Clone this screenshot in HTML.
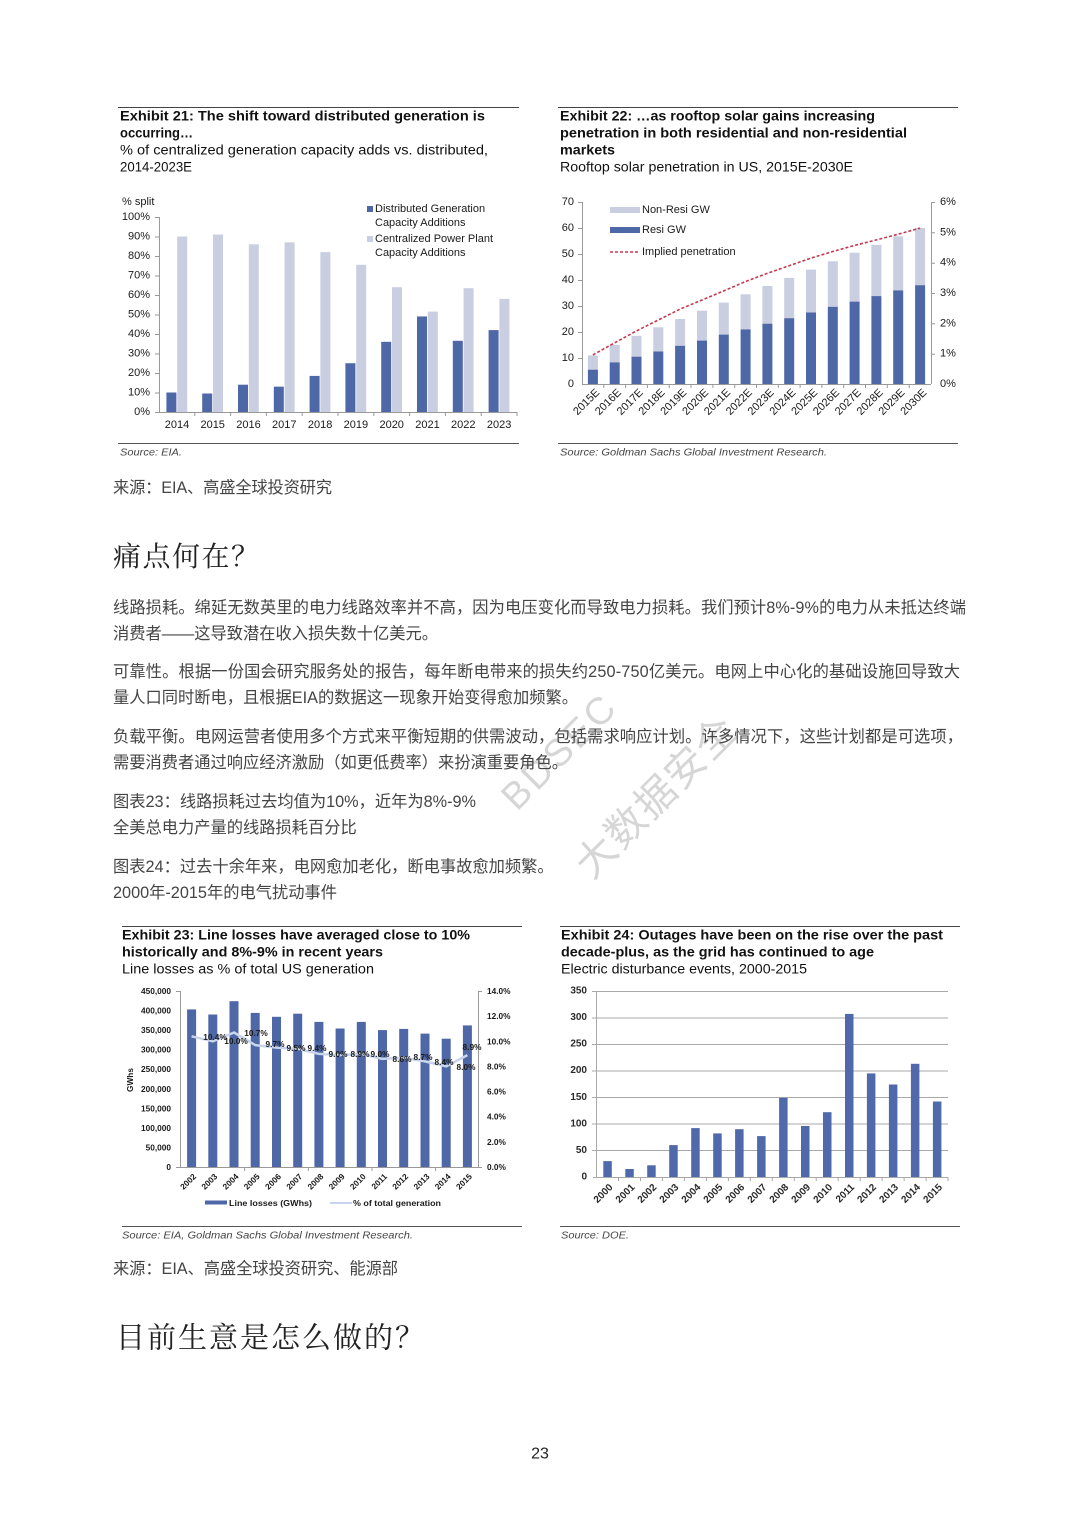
<!DOCTYPE html>
<html><head><meta charset="utf-8">
<style>
html,body{margin:0;padding:0;background:#fff;}
svg{display:block}
text{dominant-baseline:central;font-family:"Liberation Sans",Arial,sans-serif;}
.cn{font-family:"Liberation Sans","Noto Sans CJK SC",sans-serif;font-size:16.25px;fill:#444;}
.h{font-family:"Noto Serif CJK SC","Noto Sans CJK SC",serif;fill:#222;}
.tb{font-weight:bold;font-size:13.5px;fill:#111}
.tr{font-size:13.5px;fill:#111}
.src{font-style:italic;font-size:10px;fill:#444}
.ax{font-size:11px;fill:#1a1a1a}
.ax8{font-size:8.3px;font-weight:bold;fill:#1a1a1a}
.ax10{font-size:10px;font-weight:bold;fill:#2a2a2a}
.wm{font-family:"Liberation Sans","Noto Sans CJK SC",sans-serif;fill:#d6d6d6;}
</style></head><body>
<svg width="1080" height="1527" viewBox="0 0 1080 1527" xmlns="http://www.w3.org/2000/svg">
<rect width="1080" height="1527" fill="#fff"/>

<!-- ================= Exhibit 21 ================= -->
<line x1="118" y1="107.5" x2="519" y2="107.5" stroke="#444" stroke-width="1"/>
<text class="tb" x="120" y="116" textLength="365" lengthAdjust="spacingAndGlyphs">Exhibit 21: The shift toward distributed generation is</text>
<text class="tb" x="120" y="133" textLength="73" lengthAdjust="spacingAndGlyphs">occurring…</text>
<text class="tr" x="120" y="150" textLength="368" lengthAdjust="spacingAndGlyphs">% of centralized generation capacity adds vs. distributed,</text>
<text class="tr" x="120" y="167" textLength="72" lengthAdjust="spacingAndGlyphs">2014-2023E</text>

<text class="ax" x="122" y="202">% split</text>
<g class="ax" text-anchor="end">
<text class="ax" x="150" y="217">100%</text>
<text class="ax" x="150" y="236.5">90%</text>
<text class="ax" x="150" y="256">80%</text>
<text class="ax" x="150" y="275.5">70%</text>
<text class="ax" x="150" y="295">60%</text>
<text class="ax" x="150" y="314.5">50%</text>
<text class="ax" x="150" y="334">40%</text>
<text class="ax" x="150" y="353.5">30%</text>
<text class="ax" x="150" y="373">20%</text>
<text class="ax" x="150" y="392.5">10%</text>
<text class="ax" x="150" y="412">0%</text>
</g>
<g stroke="#999" stroke-width="1">
<line x1="159.5" y1="217" x2="159.5" y2="412"/>
<line x1="155" y1="412.5" x2="517" y2="412.5"/>
<line x1="155" y1="217.5" x2="159" y2="217.5"/>
<line x1="155" y1="237" x2="159" y2="237"/>
<line x1="155" y1="256.5" x2="159" y2="256.5"/>
<line x1="155" y1="276" x2="159" y2="276"/>
<line x1="155" y1="295.5" x2="159" y2="295.5"/>
<line x1="155" y1="315" x2="159" y2="315"/>
<line x1="155" y1="334.5" x2="159" y2="334.5"/>
<line x1="155" y1="354" x2="159" y2="354"/>
<line x1="155" y1="373.5" x2="159" y2="373.5"/>
<line x1="155" y1="393" x2="159" y2="393"/>
<line x1="194.8" y1="412" x2="194.8" y2="416"/>
<line x1="230.6" y1="412" x2="230.6" y2="416"/>
<line x1="266.4" y1="412" x2="266.4" y2="416"/>
<line x1="302.2" y1="412" x2="302.2" y2="416"/>
<line x1="338" y1="412" x2="338" y2="416"/>
<line x1="373.8" y1="412" x2="373.8" y2="416"/>
<line x1="409.6" y1="412" x2="409.6" y2="416"/>
<line x1="445.4" y1="412" x2="445.4" y2="416"/>
<line x1="481.2" y1="412" x2="481.2" y2="416"/>
<line x1="517" y1="412" x2="517" y2="416"/>
</g>
<g fill="#4e67a7">
<rect x="166.4" y="392.5" width="10" height="19.5"/>
<rect x="202.2" y="393.5" width="10" height="18.5"/>
<rect x="238" y="384.7" width="10" height="27.3"/>
<rect x="273.8" y="386.65" width="10" height="25.35"/>
<rect x="309.6" y="375.9" width="10" height="36.1"/>
<rect x="345.4" y="363.25" width="10" height="48.75"/>
<rect x="381.2" y="341.8" width="10" height="70.2"/>
<rect x="417" y="316.45" width="10" height="95.55"/>
<rect x="452.8" y="340.8" width="10" height="71.2"/>
<rect x="488.6" y="330.1" width="10" height="81.9"/>
</g>
<g fill="#c9cee0">
<rect x="177.2" y="236.5" width="10" height="175.5"/>
<rect x="213" y="234.55" width="10" height="177.45"/>
<rect x="248.8" y="244.3" width="10" height="167.7"/>
<rect x="284.6" y="242.35" width="10" height="169.65"/>
<rect x="320.4" y="252.1" width="10" height="159.9"/>
<rect x="356.2" y="264.8" width="10" height="147.2"/>
<rect x="392" y="287.2" width="10" height="124.8"/>
<rect x="427.8" y="311.6" width="10" height="100.4"/>
<rect x="463.6" y="288.2" width="10" height="123.8"/>
<rect x="499.4" y="298.9" width="10" height="113.1"/>
</g>
<g text-anchor="middle">
<text class="ax" x="177" y="425" text-anchor="middle">2014</text>
<text class="ax" x="212.7" y="425" text-anchor="middle">2015</text>
<text class="ax" x="248.5" y="425" text-anchor="middle">2016</text>
<text class="ax" x="284.3" y="425" text-anchor="middle">2017</text>
<text class="ax" x="320.1" y="425" text-anchor="middle">2018</text>
<text class="ax" x="355.9" y="425" text-anchor="middle">2019</text>
<text class="ax" x="391.7" y="425" text-anchor="middle">2020</text>
<text class="ax" x="427.5" y="425" text-anchor="middle">2021</text>
<text class="ax" x="463.3" y="425" text-anchor="middle">2022</text>
<text class="ax" x="499.1" y="425" text-anchor="middle">2023</text>
</g>
<rect x="367" y="206" width="6" height="6" fill="#4e67a7"/>
<rect x="367" y="236" width="6" height="6" fill="#c9cee0"/>
<text class="ax" x="375" y="209">Distributed Generation</text>
<text class="ax" x="375" y="223">Capacity Additions</text>
<text class="ax" x="375" y="239">Centralized Power Plant</text>
<text class="ax" x="375" y="253">Capacity Additions</text>
<line x1="118" y1="443.5" x2="519" y2="443.5" stroke="#555" stroke-width="1"/>
<text class="src" x="120" y="453" textLength="62" lengthAdjust="spacingAndGlyphs">Source: EIA.</text>

<!-- ================= Exhibit 22 ================= -->
<line x1="558" y1="107.5" x2="958" y2="107.5" stroke="#444" stroke-width="1"/>
<text class="tb" x="560" y="116" textLength="315" lengthAdjust="spacingAndGlyphs">Exhibit 22: …as rooftop solar gains increasing</text>
<text class="tb" x="560" y="133" textLength="347" lengthAdjust="spacingAndGlyphs">penetration in both residential and non-residential</text>
<text class="tb" x="560" y="150" textLength="55" lengthAdjust="spacingAndGlyphs">markets</text>
<text class="tr" x="560" y="167" textLength="293" lengthAdjust="spacingAndGlyphs">Rooftop solar penetration in US, 2015E-2030E</text>

<g text-anchor="end">
<text class="ax" x="574" y="202" text-anchor="end">70</text>
<text class="ax" x="574" y="228" text-anchor="end">60</text>
<text class="ax" x="574" y="254" text-anchor="end">50</text>
<text class="ax" x="574" y="280" text-anchor="end">40</text>
<text class="ax" x="574" y="306" text-anchor="end">30</text>
<text class="ax" x="574" y="332" text-anchor="end">20</text>
<text class="ax" x="574" y="358" text-anchor="end">10</text>
<text class="ax" x="574" y="384" text-anchor="end">0</text>
</g>
<text class="ax" x="940" y="202">6%</text>
<text class="ax" x="940" y="232.3">5%</text>
<text class="ax" x="940" y="262.7">4%</text>
<text class="ax" x="940" y="293">3%</text>
<text class="ax" x="940" y="323.3">2%</text>
<text class="ax" x="940" y="353.7">1%</text>
<text class="ax" x="940" y="384">0%</text>
<g stroke="#999" stroke-width="1">
<line x1="582.5" y1="202" x2="582.5" y2="384"/>
<line x1="931.5" y1="202" x2="931.5" y2="384"/>
<line x1="582" y1="384.5" x2="931" y2="384.5"/>
<line x1="578" y1="202.5" x2="582" y2="202.5"/>
<line x1="578" y1="228.5" x2="582" y2="228.5"/>
<line x1="578" y1="254.5" x2="582" y2="254.5"/>
<line x1="578" y1="280.5" x2="582" y2="280.5"/>
<line x1="578" y1="306.5" x2="582" y2="306.5"/>
<line x1="578" y1="332.5" x2="582" y2="332.5"/>
<line x1="578" y1="358.5" x2="582" y2="358.5"/>
<line x1="931" y1="202.5" x2="935" y2="202.5"/>
<line x1="931" y1="232.8" x2="935" y2="232.8"/>
<line x1="931" y1="263.2" x2="935" y2="263.2"/>
<line x1="931" y1="293.5" x2="935" y2="293.5"/>
<line x1="931" y1="323.8" x2="935" y2="323.8"/>
<line x1="931" y1="354.2" x2="935" y2="354.2"/>
<line x1="603.8" y1="384" x2="603.8" y2="388"/>
<line x1="625.6" y1="384" x2="625.6" y2="388"/>
<line x1="647.4" y1="384" x2="647.4" y2="388"/>
<line x1="669.2" y1="384" x2="669.2" y2="388"/>
<line x1="691" y1="384" x2="691" y2="388"/>
<line x1="712.9" y1="384" x2="712.9" y2="388"/>
<line x1="734.7" y1="384" x2="734.7" y2="388"/>
<line x1="756.5" y1="384" x2="756.5" y2="388"/>
<line x1="778.3" y1="384" x2="778.3" y2="388"/>
<line x1="800.1" y1="384" x2="800.1" y2="388"/>
<line x1="821.9" y1="384" x2="821.9" y2="388"/>
<line x1="843.7" y1="384" x2="843.7" y2="388"/>
<line x1="865.5" y1="384" x2="865.5" y2="388"/>
<line x1="887.3" y1="384" x2="887.3" y2="388"/>
<line x1="909.2" y1="384" x2="909.2" y2="388"/>
</g>
<g fill="#c9cee0">
<rect x="587.9" y="355.4" width="10" height="14.3"/>
<rect x="609.7" y="345" width="10" height="17.4"/>
<rect x="631.5" y="335.9" width="10" height="20.8"/>
<rect x="653.3" y="327.3" width="10" height="24.2"/>
<rect x="675.1" y="319" width="10" height="26.8"/>
<rect x="697" y="310.7" width="10" height="29.9"/>
<rect x="718.8" y="302.6" width="10" height="32"/>
<rect x="740.6" y="294.3" width="10" height="35.1"/>
<rect x="762.4" y="286" width="10" height="37.7"/>
<rect x="784.2" y="277.9" width="10" height="40.3"/>
<rect x="806" y="269.6" width="10" height="42.9"/>
<rect x="827.8" y="261.3" width="10" height="45.5"/>
<rect x="849.6" y="252.7" width="10" height="48.9"/>
<rect x="871.4" y="244.9" width="10" height="51.2"/>
<rect x="893.2" y="236.3" width="10" height="54.1"/>
<rect x="915.1" y="228" width="10" height="57.2"/>
</g>
<g fill="#4e67a7">
<rect x="587.9" y="369.7" width="10" height="14.3"/>
<rect x="609.7" y="362.4" width="10" height="21.6"/>
<rect x="631.5" y="356.7" width="10" height="27.3"/>
<rect x="653.3" y="351.5" width="10" height="32.5"/>
<rect x="675.1" y="345.8" width="10" height="38.2"/>
<rect x="697" y="340.6" width="10" height="43.4"/>
<rect x="718.8" y="334.6" width="10" height="49.4"/>
<rect x="740.6" y="329.4" width="10" height="54.6"/>
<rect x="762.4" y="323.7" width="10" height="60.3"/>
<rect x="784.2" y="318.2" width="10" height="65.8"/>
<rect x="806" y="312.5" width="10" height="71.5"/>
<rect x="827.8" y="306.8" width="10" height="77.2"/>
<rect x="849.6" y="301.6" width="10" height="82.4"/>
<rect x="871.4" y="296.1" width="10" height="87.9"/>
<rect x="893.2" y="290.4" width="10" height="93.6"/>
<rect x="915.1" y="285.2" width="10" height="98.8"/>
</g>
<polyline fill="none" stroke="#c8374f" stroke-width="1.6" stroke-dasharray="3,2" points="592.9,354.9 614.7,342.8 636.5,330.9 658.3,320 680.1,309.1 702,300 723.8,290.9 745.6,281.5 767.4,273.3 789.2,265.7 811,258.1 832.8,251.5 854.6,245.4 876.4,239.9 898.2,234.2 920.1,228.1"/>
<rect x="610" y="207" width="30" height="6" fill="#c9cee0"/>
<rect x="610" y="227" width="30" height="6" fill="#4e67a7"/>
<line x1="610" y1="252" x2="640" y2="252" stroke="#c8374f" stroke-width="1.6" stroke-dasharray="3,2"/>
<text class="ax" x="642" y="210">Non-Resi GW</text>
<text class="ax" x="642" y="230">Resi GW</text>
<text class="ax" x="642" y="252">Implied penetration</text>
<g font-size="10.5">
<text class="ax" font-size="10.5" text-anchor="end" transform="translate(597.9,391) rotate(-45)">2015E</text>
<text class="ax" font-size="10.5" text-anchor="end" transform="translate(619.7,391) rotate(-45)">2016E</text>
<text class="ax" font-size="10.5" text-anchor="end" transform="translate(641.5,391) rotate(-45)">2017E</text>
<text class="ax" font-size="10.5" text-anchor="end" transform="translate(663.3,391) rotate(-45)">2018E</text>
<text class="ax" font-size="10.5" text-anchor="end" transform="translate(685.1,391) rotate(-45)">2019E</text>
<text class="ax" font-size="10.5" text-anchor="end" transform="translate(707,391) rotate(-45)">2020E</text>
<text class="ax" font-size="10.5" text-anchor="end" transform="translate(728.8,391) rotate(-45)">2021E</text>
<text class="ax" font-size="10.5" text-anchor="end" transform="translate(750.6,391) rotate(-45)">2022E</text>
<text class="ax" font-size="10.5" text-anchor="end" transform="translate(772.4,391) rotate(-45)">2023E</text>
<text class="ax" font-size="10.5" text-anchor="end" transform="translate(794.2,391) rotate(-45)">2024E</text>
<text class="ax" font-size="10.5" text-anchor="end" transform="translate(816,391) rotate(-45)">2025E</text>
<text class="ax" font-size="10.5" text-anchor="end" transform="translate(837.8,391) rotate(-45)">2026E</text>
<text class="ax" font-size="10.5" text-anchor="end" transform="translate(859.6,391) rotate(-45)">2027E</text>
<text class="ax" font-size="10.5" text-anchor="end" transform="translate(881.4,391) rotate(-45)">2028E</text>
<text class="ax" font-size="10.5" text-anchor="end" transform="translate(903.2,391) rotate(-45)">2029E</text>
<text class="ax" font-size="10.5" text-anchor="end" transform="translate(925.1,391) rotate(-45)">2030E</text>
</g>
<line x1="558" y1="443.5" x2="958" y2="443.5" stroke="#555" stroke-width="1"/>
<text class="src" x="560" y="453" textLength="267" lengthAdjust="spacingAndGlyphs">Source: Goldman Sachs Global Investment Research.</text>

<!-- watermark (behind text) -->
<text class="wm" font-size="38" letter-spacing="3" text-anchor="middle" transform="translate(560,752) rotate(-45)">BDSEC</text>
<text class="wm" font-size="40" letter-spacing="2" text-anchor="middle" transform="translate(657,797) rotate(-45)">大数据安全</text>

<!-- ================= Body text ================= -->
<text class="cn" x="113" y="488" textLength="219" lengthAdjust="spacing">来源：EIA、高盛全球投资研究</text>
<text class="h" x="113" y="555" font-size="28" letter-spacing="1.5">痛点何在？</text>

<text class="cn" x="113" y="608" textLength="853" lengthAdjust="spacing">线路损耗。绵延无数英里的电力线路效率并不高，因为电压变化而导致电力损耗。我们预计8%-9%的电力从未抵达终端</text>
<text class="cn" x="113" y="634">消费者——这导致潜在收入损失数十亿美元。</text>

<text class="cn" x="113" y="672" textLength="847" lengthAdjust="spacing">可靠性。根据一份国会研究服务处的报告，每年断电带来的损失约250-750亿美元。电网上中心化的基础设施回导致大</text>
<text class="cn" x="113" y="698">量人口同时断电，且根据EIA的数据这一现象开始变得愈加频繁。</text>

<text class="cn" x="113" y="737" textLength="850" lengthAdjust="spacing">负载平衡。电网运营者使用多个方式来平衡短期的供需波动，包括需求响应计划。许多情况下，这些计划都是可选项，</text>
<text class="cn" x="113" y="763">需要消费者通过响应经济激励（如更低费率）来扮演重要角色。</text>

<text class="cn" x="113" y="802">图表23：线路损耗过去均值为10%，近年为8%-9%</text>
<text class="cn" x="113" y="828">全美总电力产量的线路损耗百分比</text>

<text class="cn" x="113" y="867">图表24：过去十余年来，电网愈加老化，断电事故愈加频繁。</text>
<text class="cn" x="113" y="893">2000年-2015年的电气扰动事件</text>

<!-- ================= Exhibit 23 ================= -->
<line x1="122" y1="926.5" x2="522" y2="926.5" stroke="#444" stroke-width="1"/>
<text class="tb" x="122" y="935" textLength="348" lengthAdjust="spacingAndGlyphs">Exhibit 23: Line losses have averaged close to 10%</text>
<text class="tb" x="122" y="952" textLength="261" lengthAdjust="spacingAndGlyphs">historically and 8%-9% in recent years</text>
<text class="tr" x="122" y="969" textLength="252" lengthAdjust="spacingAndGlyphs">Line losses as % of total US generation</text>

<g>
<text class="ax8" x="171" y="991" text-anchor="end">450,000</text>
<text class="ax8" x="171" y="1010.6" text-anchor="end">400,000</text>
<text class="ax8" x="171" y="1030.1" text-anchor="end">350,000</text>
<text class="ax8" x="171" y="1049.7" text-anchor="end">300,000</text>
<text class="ax8" x="171" y="1069.2" text-anchor="end">250,000</text>
<text class="ax8" x="171" y="1088.8" text-anchor="end">200,000</text>
<text class="ax8" x="171" y="1108.3" text-anchor="end">150,000</text>
<text class="ax8" x="171" y="1127.9" text-anchor="end">100,000</text>
<text class="ax8" x="171" y="1147.4" text-anchor="end">50,000</text>
<text class="ax8" x="171" y="1167" text-anchor="end">0</text>
</g>
<g>
<text class="ax8" font-size="7.5" x="487" y="991">14.0%</text>
<text class="ax8" font-size="7.5" x="487" y="1016.1">12.0%</text>
<text class="ax8" font-size="7.5" x="487" y="1041.3">10.0%</text>
<text class="ax8" font-size="7.5" x="487" y="1066.4">8.0%</text>
<text class="ax8" font-size="7.5" x="487" y="1091.6">6.0%</text>
<text class="ax8" font-size="7.5" x="487" y="1116.7">4.0%</text>
<text class="ax8" font-size="7.5" x="487" y="1141.9">2.0%</text>
<text class="ax8" font-size="7.5" x="487" y="1167">0.0%</text>
</g>
<text class="ax8" transform="translate(130,1080) rotate(-90)" text-anchor="middle">GWhs</text>
<g stroke="#999" stroke-width="1">
<line x1="180.5" y1="991" x2="180.5" y2="1167"/>
<line x1="478.5" y1="991" x2="478.5" y2="1167"/>
<line x1="180" y1="1167.5" x2="478" y2="1167.5"/>
<line x1="176" y1="991.5" x2="180" y2="991.5"/>
<line x1="176" y1="1167.5" x2="180" y2="1167.5"/>
<line x1="478" y1="991.5" x2="482" y2="991.5"/>
<line x1="478" y1="1167.5" x2="482" y2="1167.5"/>
<line x1="244.6" y1="1167" x2="244.6" y2="1171"/>
<line x1="308.3" y1="1167" x2="308.3" y2="1171"/>
<line x1="372" y1="1167" x2="372" y2="1171"/>
<line x1="435.6" y1="1167" x2="435.6" y2="1171"/>
</g>
<g fill="#4e67a7">
<rect x="187.1" y="1009.4" width="9" height="157.6"/>
<rect x="208.3" y="1014.5" width="9" height="152.5"/>
<rect x="229.5" y="1001.2" width="9" height="165.8"/>
<rect x="250.7" y="1012.9" width="9" height="154.1"/>
<rect x="272" y="1016.8" width="9" height="150.2"/>
<rect x="293.2" y="1013.7" width="9" height="153.3"/>
<rect x="314.4" y="1021.9" width="9" height="145.1"/>
<rect x="335.6" y="1028.5" width="9" height="138.5"/>
<rect x="356.8" y="1021.9" width="9" height="145.1"/>
<rect x="378" y="1030.1" width="9" height="136.9"/>
<rect x="399.2" y="1028.9" width="9" height="138.1"/>
<rect x="420.5" y="1033.6" width="9" height="133.4"/>
<rect x="441.7" y="1038.7" width="9" height="128.3"/>
<rect x="462.9" y="1025.4" width="9" height="141.6"/>
</g>
<polyline fill="none" stroke="#c7d4ec" stroke-width="2.5" stroke-linejoin="round" points="191.6,1036.3 212.8,1041.3 234,1032.5 255.2,1045.1 276.5,1047.6 297.7,1048.8 318.9,1053.9 340.1,1055.1 361.3,1053.9 382.5,1058.9 403.7,1057.6 425,1061.4 446.2,1066.4 467.4,1055.1"/>
<g text-anchor="middle">
<text class="ax8" font-size="8" x="215" y="1037" text-anchor="middle">10.4%</text>
<text class="ax8" font-size="8" x="236" y="1041" text-anchor="middle">10.0%</text>
<text class="ax8" font-size="8" x="256" y="1033" text-anchor="middle">10.7%</text>
<text class="ax8" font-size="8" x="275" y="1044" text-anchor="middle">9.7%</text>
<text class="ax8" font-size="8" x="296" y="1048" text-anchor="middle">9.5%</text>
<text class="ax8" font-size="8" x="317" y="1048" text-anchor="middle">9.4%</text>
<text class="ax8" font-size="8" x="338" y="1054" text-anchor="middle">9.0%</text>
<text class="ax8" font-size="8" x="360" y="1054" text-anchor="middle">8.9%</text>
<text class="ax8" font-size="8" x="380" y="1054" text-anchor="middle">9.0%</text>
<text class="ax8" font-size="8" x="402" y="1059" text-anchor="middle">8.6%</text>
<text class="ax8" font-size="8" x="423" y="1057" text-anchor="middle">8.7%</text>
<text class="ax8" font-size="8" x="444" y="1062" text-anchor="middle">8.4%</text>
<text class="ax8" font-size="8" x="466" y="1067" text-anchor="middle">8.0%</text>
<text class="ax8" font-size="8" x="472" y="1047" text-anchor="middle">8.9%</text>
</g>
<g>
<text class="ax8" text-anchor="end" transform="translate(194.6,1175) rotate(-45)">2002</text>
<text class="ax8" text-anchor="end" transform="translate(215.8,1175) rotate(-45)">2003</text>
<text class="ax8" text-anchor="end" transform="translate(237,1175) rotate(-45)">2004</text>
<text class="ax8" text-anchor="end" transform="translate(258.2,1175) rotate(-45)">2005</text>
<text class="ax8" text-anchor="end" transform="translate(279.5,1175) rotate(-45)">2006</text>
<text class="ax8" text-anchor="end" transform="translate(300.7,1175) rotate(-45)">2007</text>
<text class="ax8" text-anchor="end" transform="translate(321.9,1175) rotate(-45)">2008</text>
<text class="ax8" text-anchor="end" transform="translate(343.1,1175) rotate(-45)">2009</text>
<text class="ax8" text-anchor="end" transform="translate(364.3,1175) rotate(-45)">2010</text>
<text class="ax8" text-anchor="end" transform="translate(385.5,1175) rotate(-45)">2011</text>
<text class="ax8" text-anchor="end" transform="translate(406.7,1175) rotate(-45)">2012</text>
<text class="ax8" text-anchor="end" transform="translate(428,1175) rotate(-45)">2013</text>
<text class="ax8" text-anchor="end" transform="translate(449.2,1175) rotate(-45)">2014</text>
<text class="ax8" text-anchor="end" transform="translate(470.4,1175) rotate(-45)">2015</text>
</g>
<rect x="205" y="1200.5" width="22" height="4" fill="#4e67a7"/>
<text class="ax8" x="229" y="1203" textLength="83" lengthAdjust="spacingAndGlyphs">Line losses (GWhs)</text>
<line x1="330" y1="1203" x2="352" y2="1203" stroke="#c7d4ec" stroke-width="2"/>
<text class="ax8" x="353" y="1203" textLength="88" lengthAdjust="spacingAndGlyphs">% of total generation</text>
<line x1="122" y1="1226.5" x2="522" y2="1226.5" stroke="#555" stroke-width="1"/>
<text class="src" x="122" y="1236" textLength="291" lengthAdjust="spacingAndGlyphs">Source: EIA, Goldman Sachs Global Investment Research.</text>

<!-- ================= Exhibit 24 ================= -->
<line x1="560" y1="926.5" x2="960" y2="926.5" stroke="#444" stroke-width="1"/>
<text class="tb" x="561" y="935" textLength="382" lengthAdjust="spacingAndGlyphs">Exhibit 24: Outages have been on the rise over the past</text>
<text class="tb" x="561" y="952" textLength="313" lengthAdjust="spacingAndGlyphs">decade-plus, as the grid has continued to age</text>
<text class="tr" x="561" y="969" textLength="246" lengthAdjust="spacingAndGlyphs">Electric disturbance events, 2000-2015</text>

<g stroke="#a8a8a8" stroke-width="1">
<line x1="593" y1="991.5" x2="948" y2="991.5"/>
<line x1="593" y1="1018" x2="948" y2="1018"/>
<line x1="593" y1="1044.5" x2="948" y2="1044.5"/>
<line x1="593" y1="1071" x2="948" y2="1071"/>
<line x1="593" y1="1097.5" x2="948" y2="1097.5"/>
<line x1="593" y1="1124" x2="948" y2="1124"/>
<line x1="593" y1="1150.5" x2="948" y2="1150.5"/>
<line x1="593" y1="1177.5" x2="948" y2="1177.5"/>
<line x1="596.5" y1="991" x2="596.5" y2="1177"/>
<line x1="592" y1="991.5" x2="596" y2="991.5"/>
<line x1="592" y1="1018" x2="596" y2="1018"/>
<line x1="592" y1="1044.5" x2="596" y2="1044.5"/>
<line x1="592" y1="1071" x2="596" y2="1071"/>
<line x1="592" y1="1097.5" x2="596" y2="1097.5"/>
<line x1="592" y1="1124" x2="596" y2="1124"/>
<line x1="592" y1="1150.5" x2="596" y2="1150.5"/>
<line x1="618.5" y1="1177" x2="618.5" y2="1181"/>
<line x1="640.5" y1="1177" x2="640.5" y2="1181"/>
<line x1="662.4" y1="1177" x2="662.4" y2="1181"/>
<line x1="684.4" y1="1177" x2="684.4" y2="1181"/>
<line x1="706.4" y1="1177" x2="706.4" y2="1181"/>
<line x1="728.4" y1="1177" x2="728.4" y2="1181"/>
<line x1="750.3" y1="1177" x2="750.3" y2="1181"/>
<line x1="772.3" y1="1177" x2="772.3" y2="1181"/>
<line x1="794.3" y1="1177" x2="794.3" y2="1181"/>
<line x1="816.2" y1="1177" x2="816.2" y2="1181"/>
<line x1="838.2" y1="1177" x2="838.2" y2="1181"/>
<line x1="860.2" y1="1177" x2="860.2" y2="1181"/>
<line x1="882.1" y1="1177" x2="882.1" y2="1181"/>
<line x1="904.1" y1="1177" x2="904.1" y2="1181"/>
<line x1="926.1" y1="1177" x2="926.1" y2="1181"/>
<line x1="948" y1="1177" x2="948" y2="1181"/>
</g>
<g>
<text class="ax10" x="587" y="991" text-anchor="end">350</text>
<text class="ax10" x="587" y="1017.6" text-anchor="end">300</text>
<text class="ax10" x="587" y="1044.1" text-anchor="end">250</text>
<text class="ax10" x="587" y="1070.7" text-anchor="end">200</text>
<text class="ax10" x="587" y="1097.3" text-anchor="end">150</text>
<text class="ax10" x="587" y="1123.9" text-anchor="end">100</text>
<text class="ax10" x="587" y="1150.4" text-anchor="end">50</text>
<text class="ax10" x="587" y="1177" text-anchor="end">0</text>
</g>
<g fill="#5069aa">
<rect x="603.3" y="1161.1" width="8.5" height="15.9"/>
<rect x="625.3" y="1169" width="8.5" height="8"/>
<rect x="647.2" y="1165.3" width="8.5" height="11.7"/>
<rect x="669.2" y="1145.1" width="8.5" height="31.9"/>
<rect x="691.2" y="1128.1" width="8.5" height="48.9"/>
<rect x="713.2" y="1133.4" width="8.5" height="43.6"/>
<rect x="735.1" y="1129.2" width="8.5" height="47.8"/>
<rect x="757.1" y="1136.1" width="8.5" height="40.9"/>
<rect x="779.1" y="1097.8" width="8.5" height="79.2"/>
<rect x="801" y="1126" width="8.5" height="51"/>
<rect x="823" y="1112.2" width="8.5" height="64.8"/>
<rect x="845" y="1013.9" width="8.5" height="163.1"/>
<rect x="866.9" y="1073.4" width="8.5" height="103.6"/>
<rect x="888.9" y="1084.5" width="8.5" height="92.5"/>
<rect x="910.9" y="1063.8" width="8.5" height="113.2"/>
<rect x="932.9" y="1101.5" width="8.5" height="75.5"/>
</g>
<g>
<text class="ax10" text-anchor="end" transform="translate(611.5,1186) rotate(-45)">2000</text>
<text class="ax10" text-anchor="end" transform="translate(633.5,1186) rotate(-45)">2001</text>
<text class="ax10" text-anchor="end" transform="translate(655.4,1186) rotate(-45)">2002</text>
<text class="ax10" text-anchor="end" transform="translate(677.4,1186) rotate(-45)">2003</text>
<text class="ax10" text-anchor="end" transform="translate(699.4,1186) rotate(-45)">2004</text>
<text class="ax10" text-anchor="end" transform="translate(721.4,1186) rotate(-45)">2005</text>
<text class="ax10" text-anchor="end" transform="translate(743.3,1186) rotate(-45)">2006</text>
<text class="ax10" text-anchor="end" transform="translate(765.3,1186) rotate(-45)">2007</text>
<text class="ax10" text-anchor="end" transform="translate(787.3,1186) rotate(-45)">2008</text>
<text class="ax10" text-anchor="end" transform="translate(809.2,1186) rotate(-45)">2009</text>
<text class="ax10" text-anchor="end" transform="translate(831.2,1186) rotate(-45)">2010</text>
<text class="ax10" text-anchor="end" transform="translate(853.2,1186) rotate(-45)">2011</text>
<text class="ax10" text-anchor="end" transform="translate(875.1,1186) rotate(-45)">2012</text>
<text class="ax10" text-anchor="end" transform="translate(897.1,1186) rotate(-45)">2013</text>
<text class="ax10" text-anchor="end" transform="translate(919.1,1186) rotate(-45)">2014</text>
<text class="ax10" text-anchor="end" transform="translate(941.1,1186) rotate(-45)">2015</text>
</g>
<line x1="560" y1="1226.5" x2="960" y2="1226.5" stroke="#555" stroke-width="1"/>
<text class="src" x="561" y="1236" textLength="68" lengthAdjust="spacingAndGlyphs">Source: DOE.</text>

<!-- ================= Bottom ================= -->
<text class="cn" x="113" y="1269" textLength="285" lengthAdjust="spacing">来源：EIA、高盛全球投资研究、能源部</text>
<text class="h" x="116" y="1336" font-size="29" letter-spacing="2">目前生意是怎么做的？</text>
<text x="540" y="1454" font-size="16" text-anchor="middle" fill="#222">23</text>
</svg>
</body></html>
